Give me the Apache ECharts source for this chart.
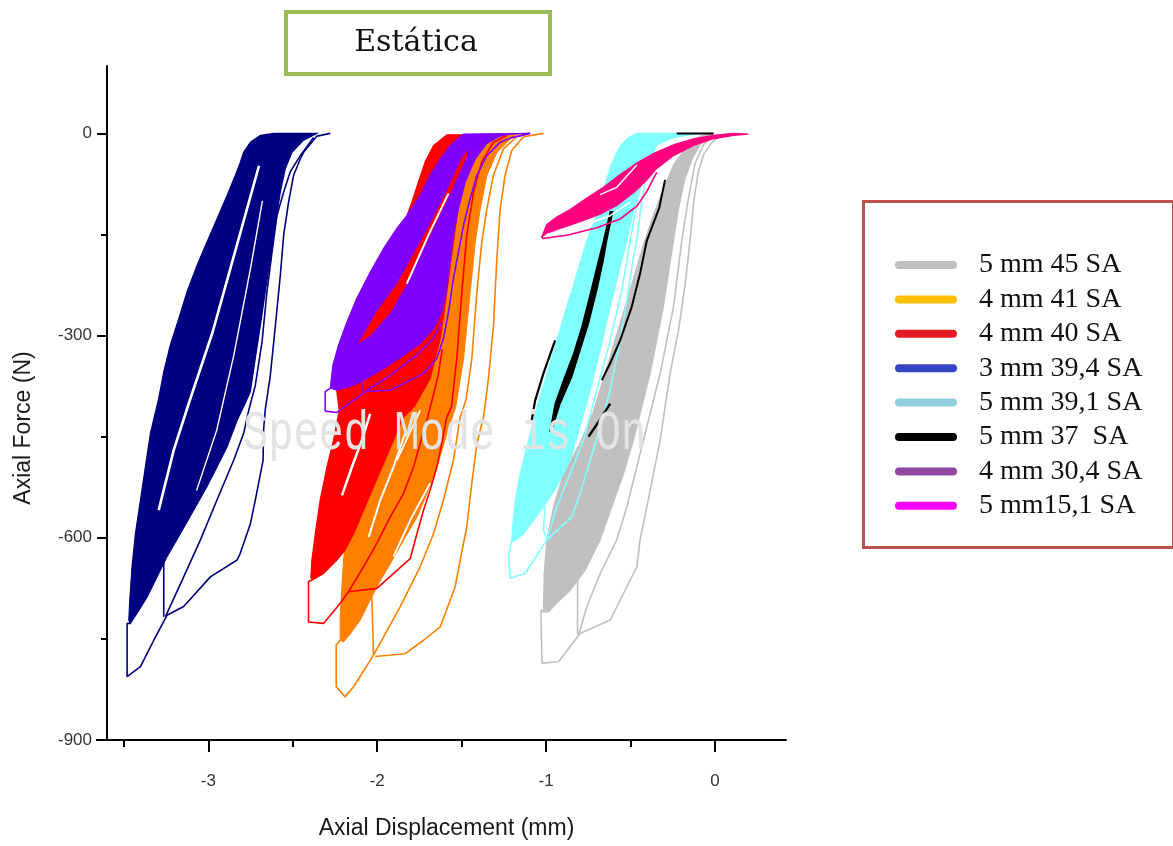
<!DOCTYPE html>
<html><head><meta charset="utf-8">
<script src="https://cdn.jsdelivr.net/npm/echarts@6/dist/echarts.min.js"></script>
<style>html,body{margin:0;padding:0;background:#fff}#c{width:1173px;height:846px}</style>
</head><body><div id="c"></div>
<script>
// ---- axis ticks ----
const xTicks = [-3, -2, -1, 0];
const xMinorTicks = [-3.5, -2.5, -1.5, -0.5];
const yTicks = [-900, -600, -300, 0];
const yMinorTicks = [-750, -450, -150];

// ---- legend ----
const seriesNames = ['5 mm 45 SA', '4 mm 41 SA', '4 mm 40 SA', '3 mm 39,4 SA', '5 mm 39,1 SA', '5 mm 37  SA', '4 mm 30,4 SA', '5 mm15,1 SA'];
const plotColors = ['#c0c0c0', '#ff8000', '#ff0000', '#000080', '#80ffff', '#000000', '#8000ff', '#ff0080'];
const legendColors = ['#bfbfbf', '#ffc000', '#e41b23', '#3643c4', '#92cddc', '#000000', '#8f48a2', '#ff00ff'];

// ---- 5 mm 45 SA (grey) ----
const greyBand = [[-0.010,0],[-0.089,-4],[-0.167,-19],[-0.246,-47],[-0.306,-83],[-0.365,-121],[-0.424,-165],[-0.483,-215],[-0.542,-265],[-0.601,-314],[-0.661,-364],[-0.720,-413],[-0.800,-460],[-0.897,-505],[-0.956,-554],[-0.996,-603],[-1.012,-653],[-1.016,-710],[-0.986,-710],[-0.937,-697],[-0.858,-678],[-0.769,-648],[-0.680,-603],[-0.611,-554],[-0.542,-505],[-0.483,-455],[-0.434,-406],[-0.384,-356],[-0.345,-307],[-0.306,-257],[-0.276,-208],[-0.246,-159],[-0.215,-110],[-0.177,-66],[-0.132,-36],[-0.089,-17],[-0.039,-6]];
const greyOut1 = [[0.089,0],[0.030,-3],[-0.020,-14],[-0.065,-30],[-0.098,-55],[-0.125,-99],[-0.148,-159],[-0.175,-220],[-0.215,-290],[-0.266,-356],[-0.325,-455],[-0.404,-554],[-0.444,-603],[-0.463,-643],[-0.621,-722],[-0.799,-742],[-0.808,-744],[-0.927,-784],[-1.025,-786],[-1.031,-707],[-1.016,-710]];
const greyOut2 = [[-0.010,-1],[-0.069,-17],[-0.118,-44],[-0.160,-100],[-0.197,-159],[-0.246,-257],[-0.325,-356],[-0.424,-455],[-0.522,-554],[-0.582,-603],[-0.680,-653],[-0.759,-702],[-0.808,-744]];
const greyOut3 = [[-0.814,-658],[-0.814,-744]];

// ---- 4 mm 41 SA (orange) ----
const orangeBand = [[-1.170,-1],[-1.332,-3],[-1.391,-18],[-1.470,-62],[-1.549,-136],[-1.647,-210],[-1.765,-285],[-1.884,-344],[-2.000,-415],[-2.061,-495],[-2.160,-569],[-2.190,-613],[-2.199,-633],[-2.209,-673],[-2.219,-717],[-2.219,-752],[-2.199,-754],[-2.160,-742],[-2.101,-722],[-2.042,-692],[-1.982,-663],[-1.923,-638],[-1.844,-603],[-1.765,-569],[-1.706,-534],[-1.647,-495],[-1.588,-445],[-1.535,-405],[-1.489,-334],[-1.450,-235],[-1.420,-161],[-1.391,-112],[-1.351,-62],[-1.292,-28],[-1.213,-8]];
const orangeGap1 = [[-1.904,-628],[-1.805,-574],[-1.687,-519]];
const orangeGap2 = [[-1.884,-485],[-1.746,-411]];
const orangeOut1 = [[-1.016,0],[-1.134,-5],[-1.203,-25],[-1.243,-62],[-1.272,-112],[-1.292,-186],[-1.312,-285],[-1.340,-360],[-1.370,-420],[-1.410,-460],[-1.440,-519],[-1.470,-584],[-1.509,-633],[-1.539,-673],[-1.627,-732],[-1.726,-752],[-1.834,-772],[-2.012,-776]];
const orangeOut2 = [[-1.100,0],[-1.174,-5],[-1.253,-23],[-1.312,-62],[-1.351,-112],[-1.381,-161],[-1.410,-235],[-1.440,-334],[-1.475,-396],[-1.509,-421],[-1.549,-485],[-1.608,-544],[-1.667,-594],[-1.746,-643],[-1.864,-702],[-2.022,-774]];
const orangeOut3 = [[-2.219,-752],[-2.243,-759],[-2.243,-821],[-2.190,-836],[-2.140,-821],[-2.022,-774]];
const orangeOut4 = [[-2.032,-688],[-2.022,-774]];

// ---- 4 mm 40 SA (red) ----
const redBand = [[-1.391,-2],[-1.588,-2],[-1.667,-18],[-1.716,-42],[-1.756,-72],[-1.795,-102],[-1.834,-129],[-1.923,-161],[-2.022,-200],[-2.121,-245],[-2.199,-295],[-2.239,-344],[-2.239,-384],[-2.225,-411],[-2.259,-455],[-2.298,-495],[-2.338,-544],[-2.367,-594],[-2.387,-633],[-2.393,-658],[-2.387,-663],[-2.318,-653],[-2.239,-633],[-2.190,-618],[-2.140,-594],[-2.081,-559],[-2.022,-524],[-1.963,-490],[-1.904,-455],[-1.844,-421],[-1.780,-405],[-1.687,-364],[-1.627,-304],[-1.588,-235],[-1.549,-161],[-1.509,-87],[-1.450,-28]];
const redGap1 = [[-2.209,-537],[-2.150,-495],[-2.091,-455],[-2.042,-416]];
const redGap2 = [[-2.051,-599],[-1.982,-544],[-1.904,-495],[-1.835,-445]];
const redOut1 = [[-1.233,-3],[-1.312,-13],[-1.381,-42],[-1.430,-87],[-1.470,-151],[-1.499,-235],[-1.529,-334],[-1.560,-405],[-1.588,-421],[-1.618,-460],[-1.647,-495],[-1.687,-529],[-1.726,-559],[-1.765,-594],[-1.805,-631],[-2.002,-675],[-2.170,-680],[-2.219,-697],[-2.318,-727],[-2.407,-725],[-2.407,-665],[-2.387,-663]];
const redOut2 = [[-2.170,-680],[-2.081,-643],[-2.002,-608],[-1.923,-569],[-1.844,-534],[-1.785,-495],[-1.746,-460],[-1.706,-426],[-1.680,-400],[-1.640,-360],[-1.615,-320]];
const redStreak = [[-2.101,-309],[-2.002,-265],[-1.884,-225],[-1.775,-176],[-1.677,-131],[-1.578,-82],[-1.499,-38],[-1.470,-28],[-1.474,-35],[-1.572,-89],[-1.687,-149],[-1.821,-220],[-1.923,-265],[-2.042,-299]];

// ---- 3 mm 39,4 SA (navy) ----
const navyBand = [[-2.357,0],[-2.613,0],[-2.692,-3],[-2.751,-13],[-2.791,-28],[-2.811,-43],[-2.840,-62],[-2.889,-92],[-2.949,-127],[-3.008,-161],[-3.067,-196],[-3.126,-235],[-3.175,-275],[-3.225,-314],[-3.264,-354],[-3.294,-393],[-3.343,-445],[-3.373,-495],[-3.402,-544],[-3.432,-594],[-3.452,-643],[-3.465,-692],[-3.471,-722],[-3.461,-727],[-3.422,-712],[-3.363,-688],[-3.304,-658],[-3.245,-628],[-3.166,-594],[-3.087,-559],[-3.008,-524],[-2.949,-495],[-2.889,-465],[-2.830,-426],[-2.781,-400],[-2.751,-383],[-2.722,-334],[-2.692,-285],[-2.663,-235],[-2.633,-186],[-2.603,-136],[-2.574,-87],[-2.544,-52],[-2.505,-28],[-2.436,-10]];
const navyGap1 = [[-3.294,-559],[-3.205,-470],[-3.115,-400],[-2.975,-295],[-2.830,-165],[-2.700,-48]];
const navyGap2 = [[-3.070,-530],[-2.950,-440],[-2.850,-330],[-2.750,-200],[-2.680,-100]];
const navyOutA = [[-2.278,0],[-2.357,-4],[-2.436,-28],[-2.456,-38],[-2.495,-62],[-2.525,-102],[-2.554,-151],[-2.574,-211],[-2.603,-285],[-2.633,-359],[-2.663,-410],[-2.673,-440],[-2.676,-485],[-2.722,-544],[-2.751,-579],[-2.811,-623],[-2.830,-633],[-2.988,-658],[-3.146,-702],[-3.245,-715],[-3.254,-717],[-3.323,-752],[-3.402,-791],[-3.481,-806],[-3.481,-727],[-3.461,-727]];
const navyOutB = [[-2.377,-6],[-2.456,-33],[-2.515,-57],[-2.554,-87],[-2.594,-122],[-2.623,-176],[-2.653,-235],[-2.682,-309],[-2.722,-374],[-2.760,-410],[-2.791,-445],[-2.850,-485],[-2.949,-544],[-3.047,-603],[-3.146,-658],[-3.254,-717]];
const navyOutC = [[-3.264,-633],[-3.264,-717]];

// ---- 5 mm 39,1 SA (cyan) ----
const cyanBand = [[-0.089,0],[-0.463,0],[-0.513,-6],[-0.562,-19],[-0.611,-44],[-0.661,-83],[-0.710,-127],[-0.759,-159],[-0.818,-208],[-0.878,-257],[-0.937,-307],[-0.996,-356],[-1.055,-406],[-1.104,-455],[-1.154,-505],[-1.183,-544],[-1.197,-579],[-1.203,-603],[-1.193,-606],[-1.134,-594],[-1.075,-574],[-1.016,-554],[-0.937,-524],[-0.858,-485],[-0.799,-435],[-0.739,-381],[-0.680,-322],[-0.621,-257],[-0.562,-198],[-0.522,-159],[-0.480,-110],[-0.440,-70],[-0.400,-40],[-0.345,-17],[-0.246,-6]];
const cyanOut1 = [[-1.203,-603],[-1.223,-628],[-1.213,-660],[-1.124,-653],[-0.996,-603],[-0.848,-569],[-0.799,-534],[-0.739,-485],[-0.680,-435],[-0.621,-381],[-0.562,-307],[-0.513,-233],[-0.483,-183],[-0.463,-159],[-0.434,-100],[-0.404,-50],[-0.345,-17]];
const cyanOut2 = [[-1.006,-554],[-1.016,-589],[-0.996,-603],[-0.937,-554],[-0.858,-505],[-0.779,-455],[-0.700,-381],[-0.621,-307],[-0.552,-233],[-0.503,-159],[-0.460,-100],[-0.424,-61]];

// ---- 5 mm 37 SA (black) ----
const blackWedge = [[-0.621,-116],[-0.661,-159],[-0.700,-198],[-0.739,-238],[-0.789,-287],[-0.838,-327],[-0.897,-366],[-0.947,-401],[-0.976,-440],[-0.960,-435],[-0.917,-401],[-0.848,-361],[-0.799,-322],[-0.749,-282],[-0.700,-233],[-0.661,-188],[-0.641,-159],[-0.605,-116]];
const blackLine1 = [[-0.947,-307],[-1.016,-356],[-1.065,-396],[-1.085,-425]];
const blackLine2 = [[-0.296,-69],[-0.330,-110],[-0.404,-159],[-0.444,-208],[-0.493,-257],[-0.562,-307],[-0.621,-341],[-0.670,-366]];
const blackLine3 = [[-0.621,-401],[-0.690,-428],[-0.749,-450]];
const blackTop = [[-0.227,0],[-0.010,0]];

// ---- 4 mm 30,4 SA (purple) ----
const purpleBand = [[-1.095,0],[-1.489,-1],[-1.568,-18],[-1.627,-38],[-1.687,-62],[-1.746,-92],[-1.825,-122],[-1.884,-141],[-1.963,-171],[-2.042,-206],[-2.121,-245],[-2.180,-280],[-2.229,-314],[-2.263,-344],[-2.278,-378],[-2.239,-381],[-2.140,-374],[-2.042,-361],[-1.943,-346],[-1.844,-329],[-1.746,-312],[-1.667,-290],[-1.618,-265],[-1.592,-235],[-1.572,-196],[-1.549,-151],[-1.519,-112],[-1.479,-72],[-1.420,-38],[-1.351,-15],[-1.272,-4],[-1.213,-1]];
const purpleGap = [[-1.825,-223],[-1.697,-151],[-1.578,-89]];
const purpleOut = [[-2.278,-378],[-2.308,-383],[-2.308,-412],[-2.239,-414],[-2.071,-383],[-1.923,-381],[-1.726,-356],[-1.647,-334],[-1.608,-304],[-1.578,-265],[-1.549,-215],[-1.519,-176],[-1.489,-136],[-1.450,-97],[-1.410,-62],[-1.351,-33],[-1.272,-13],[-1.213,-7],[-1.095,0]];
const purpleOut2 = [[-2.071,-383],[-1.923,-359],[-1.765,-329],[-1.667,-304],[-1.618,-280]];
const purpleOut3 = [[-2.091,-361],[-2.091,-383]];

// ---- 5 mm15,1 SA (pink) ----
const pinkBand = [[-1.025,-153],[-0.996,-135],[-0.937,-124],[-0.858,-113],[-0.759,-96],[-0.661,-80],[-0.562,-61],[-0.463,-44],[-0.365,-30],[-0.246,-17],[-0.128,-8],[-0.010,-3],[0.109,0],[0.197,-1],[0.109,-3],[-0.010,-8],[-0.128,-18],[-0.246,-33],[-0.345,-52],[-0.414,-72],[-0.483,-88],[-0.582,-107],[-0.680,-120],[-0.799,-131],[-0.917,-141],[-0.996,-148]];
const pinkOut = [[-1.025,-153],[-1.020,-156],[-0.878,-151],[-0.700,-140],[-0.562,-127],[-0.463,-108],[-0.404,-86],[-0.345,-58]];
const pinkGap1 = [[-0.990,-150],[-0.799,-138],[-0.621,-122],[-0.503,-102]];
const pinkGap2 = [[-0.680,-91],[-0.582,-80],[-0.463,-47]];

// ---------- builders ----------
let zc = 10;
function band(name, pts, color) {
  return {
    type: 'custom', name: name, data: pts, z: zc++, silent: true, animation: false,
    renderItem: function (params, api) {
      if (params.dataIndex !== 0) return null;
      return { type: 'polygon', shape: { points: pts.map(function (p) { return api.coord(p); }) },
        style: { fill: color, stroke: color, lineWidth: 1.2 } };
    }
  };
}
function line(name, pts, color, width) {
  return { type: 'line', name: name, data: pts, symbol: 'none', showSymbol: false, z: zc++, silent: true, animation: false,
    lineStyle: { color: color, width: width }, itemStyle: { color: color } };
}
const W = '#ffffff';
const N = seriesNames, C = plotColors;
const series = [
  band(N[0], greyBand, C[0]), line(N[0], greyOut1, C[0], 1.6), line(N[0], greyOut2, C[0], 1.6), line(N[0], greyOut3, C[0], 1.6),
  band(N[1], orangeBand, C[1]), line(N[1], orangeGap1, W, 1.8), line(N[1], orangeGap2, W, 1.8),
  line(N[1], orangeOut1, C[1], 1.6), line(N[1], orangeOut2, C[1], 1.6), line(N[1], orangeOut3, C[1], 1.6), line(N[1], orangeOut4, C[1], 1.6),
  band(N[2], redBand, C[2]), line(N[2], redGap1, W, 2.5), line(N[2], redGap2, W, 2), line(N[2], redOut1, C[2], 1.6), line(N[2], redOut2, C[2], 1.6),
  band(N[3], navyBand, C[3]), line(N[3], navyGap1, W, 2.6), line(N[3], navyGap2, W, 1.4),
  line(N[3], navyOutA, C[3], 1.6), line(N[3], navyOutB, C[3], 1.6), line(N[3], navyOutC, C[3], 1.6),
  band(N[4], cyanBand, C[4]), line(N[4], cyanOut1, C[4], 1.6), line(N[4], cyanOut2, C[4], 1.6),
  band(N[5], blackWedge, C[5]), line(N[5], blackLine1, C[5], 2.2), line(N[5], blackLine2, C[5], 2), line(N[5], blackLine3, C[5], 2.4), line(N[5], blackTop, C[5], 2),
  band(N[6], purpleBand, C[6]),
  band(N[2], redStreak, C[2]),
  line(N[6], purpleGap, W, 2), line(N[6], purpleOut, C[6], 1.6), line(N[6], purpleOut2, C[6], 1.6), line(N[6], purpleOut3, C[6], 1.6),
  band(N[7], pinkBand, C[7]), line(N[7], pinkGap1, W, 1.6), line(N[7], pinkGap2, W, 1.4), line(N[7], pinkOut, C[7], 1.6)
];

const capsule = 'path://M4,0L58,0A4,4,0,0,1,58,8L4,8A4,4,0,0,1,4,0Z';
const axisFont = 'Liberation Sans';
const chart = echarts.init(document.getElementById('c'), null, { renderer: 'canvas' });
chart.setOption({
  animation: false,
  backgroundColor: '#ffffff',
  grid: { left: 107, top: 66, right: 387, bottom: 106, containLabel: false },
  xAxis: [
    { type: 'value', min: -3.6, max: 0.42, position: 'bottom',
      name: 'Axial Displacement (mm)', nameLocation: 'middle', nameGap: 77,
      nameTextStyle: { fontFamily: axisFont, fontSize: 23, color: '#1a1a1a' },
      axisLine: { show: true, onZero: false, lineStyle: { color: '#000', width: 2 } },
      axisTick: { show: true, customValues: xTicks, length: 12, lineStyle: { color: '#000', width: 2 } },
      axisLabel: { customValues: xTicks, margin: 33, fontFamily: axisFont, fontSize: 17, color: '#333' },
      splitLine: { show: false } },
    { type: 'value', min: -3.6, max: 0.42, position: 'bottom', gridIndex: 0,
      axisLine: { show: false, onZero: false },
      axisTick: { show: true, customValues: xMinorTicks, length: 7, lineStyle: { color: '#000', width: 2 } },
      axisLabel: { show: false }, splitLine: { show: false } }
  ],
  yAxis: [
    { type: 'value', min: -900, max: 100, position: 'left',
      name: 'Axial Force (N)', nameLocation: 'middle', nameGap: 72, nameRotate: 90,
      nameTextStyle: { fontFamily: axisFont, fontSize: 23, color: '#1a1a1a', padding: [0, 50, 0, 0] },
      axisLine: { show: true, onZero: false, lineStyle: { color: '#000', width: 2 } },
      axisTick: { show: true, customValues: yTicks, length: 10, lineStyle: { color: '#000', width: 2 } },
      axisLabel: { customValues: yTicks, margin: 15, fontFamily: axisFont, fontSize: 17, color: '#333' },
      splitLine: { show: false } },
    { type: 'value', min: -900, max: 100, position: 'left', gridIndex: 0,
      axisLine: { show: false, onZero: false },
      axisTick: { show: true, customValues: yMinorTicks, length: 6, lineStyle: { color: '#000', width: 2 } },
      axisLabel: { show: false }, splitLine: { show: false } }
  ],
  legend: {
    orient: 'vertical', left: 895, top: 251, padding: 0, itemWidth: 62, itemHeight: 8, itemGap: 6.4,
    selectedMode: false,
    textStyle: { fontFamily: 'Liberation Serif', fontSize: 28, color: '#111', lineHeight: 28, padding: [0, 0, 0, 17] },
    data: seriesNames.map(function (n, i) { return { name: n, icon: capsule, itemStyle: { color: legendColors[i], borderWidth: 0 } }; })
  },
  graphic: [
    { type: 'line', z: 5, shape: { x1: 96, y1: 740, x2: 108, y2: 740 }, style: { stroke: '#000', lineWidth: 2 } },
    { type: 'rect', left: 284, top: 10, z: 100, shape: { width: 264, height: 62 }, style: { fill: '#fff', stroke: '#9bbb59', lineWidth: 4 } },
    { type: 'text', x: 416, y: 43, z: 101, style: { text: 'Estática', font: '30px "DejaVu Serif"', fill: '#111', align: 'center', verticalAlign: 'middle' } },
    { type: 'rect', left: 861, top: 199, z: 1, shape: { width: 310, height: 346 }, style: { fill: 'none', stroke: '#c0504d', lineWidth: 3 } },
    { type: 'text', x: 243, y: 435, scaleY: 1.3, z: 1000, silent: true, style: { text: 'Speed Mode is On', font: '42px "Liberation Mono"', fill: '#e3e3e3', align: 'left', verticalAlign: 'middle' } }
  ],
  series: series
});
</script>
</body></html>
